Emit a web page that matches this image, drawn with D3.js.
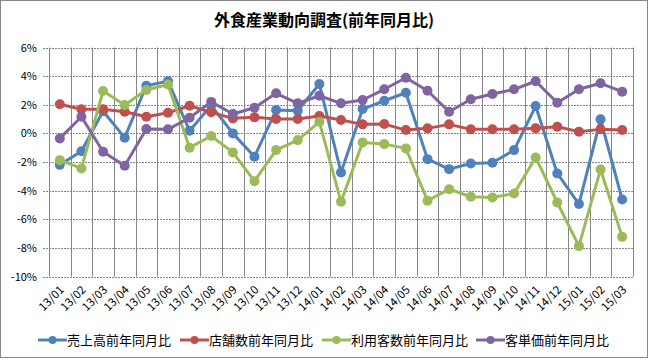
<!DOCTYPE html>
<html><head><meta charset="utf-8">
<script src="https://cdn.jsdelivr.net/npm/d3@7"></script>
<style>
html,body{margin:0;padding:0;background:#fff;}
svg{display:block;font-family:"Noto Sans CJK JP","Noto Sans",sans-serif;}
</style></head>
<body>
<script>
const categories = ["13/01","13/02","13/03","13/04","13/05","13/06","13/07","13/08","13/09","13/10","13/11","13/12","14/01","14/02","14/03","14/04","14/05","14/06","14/07","14/08","14/09","14/10","14/11","14/12","15/01","15/02","15/03"];
const sales    = [-2.2,-1.25,1.55,-0.3,3.33,3.65,0.18,1.95,0.0,-1.63,1.63,1.58,3.45,-2.73,1.7,2.28,2.84,-1.8,-2.5,-2.1,-2.05,-1.17,1.91,-2.8,-4.94,0.98,-4.62];
const stores   = [2.03,1.68,1.68,1.51,1.16,1.44,1.93,1.47,1.05,1.12,1.0,1.0,1.21,0.93,0.63,0.65,0.23,0.35,0.63,0.28,0.28,0.28,0.35,0.46,0.12,0.28,0.23];
const visitors = [-1.87,-2.45,2.96,1.98,3.03,3.42,-1.0,-0.18,-1.33,-3.34,-1.17,-0.47,0.81,-4.78,-0.63,-0.75,-1.05,-4.71,-3.9,-4.43,-4.48,-4.2,-1.68,-4.83,-7.88,-2.52,-7.23];
const unitPrice= [-0.35,1.16,-1.28,-2.26,0.3,0.28,1.09,2.2,1.35,1.79,2.8,2.1,2.63,2.1,2.33,3.08,3.89,2.98,1.51,2.38,2.75,3.08,3.64,2.14,3.08,3.5,2.91];
const seriesNames = ["売上高前年同月比","店舗数前年同月比","利用客数前年同月比","客単価前年同月比"];
const seriesColors = ["#4F81BD","#C0504D","#9BBB59","#8064A2"];
const yTicks = [6,4,2,0,-2,-4,-6,-8,-10];
const title = "外食産業動向調査(前年同月比)";

(function(){
const W = 649, H = 361;
const svg = d3.select("body").append("svg").attr("width", W).attr("height", H);

svg.append("rect").attr("x",0.5).attr("y",0.5).attr("width",W-2).attr("height",H-4)
  .attr("fill","#fff").attr("stroke","#868686").attr("stroke-width",1);

svg.append("text").attr("x",324).attr("y",26).attr("text-anchor","middle")
  .attr("font-size",16).attr("font-weight","bold").attr("fill","#000").text(title);

const pLeft = 49, pRight = 633, pTop = 47.5, pBottom = 276.5;
const x = d3.scaleBand().domain(categories).range([pLeft, pRight]);
const y = d3.scaleLinear().domain([-10, 6]).range([pBottom, pTop]);

svg.append("g").selectAll("line").data(yTicks).join("line")
  .attr("x1", pLeft - 6).attr("x2", pRight)
  .attr("y1", d => Math.round(y(d)) + 0.5).attr("y2", d => Math.round(y(d)) + 0.5)
  .attr("stroke", "#868686").attr("stroke-dasharray", "2,1");

const bounds = categories.map(c => x(c)).concat([pRight]);
svg.append("g").selectAll("line").data(bounds).join("line")
  .attr("x1", d => Math.round(d) + 0.5).attr("x2", d => Math.round(d) + 0.5)
  .attr("y1", pTop).attr("y2", pBottom)
  .attr("stroke", "#868686");

svg.append("g").selectAll("text").data(yTicks).join("text")
  .attr("x", 37).attr("y", d => y(d) + 4)
  .attr("text-anchor", "end").attr("font-size", 11).attr("fill", "#000")
  .text(d => d + "%");

svg.append("g").selectAll("text").data(categories).join("text")
  .attr("transform", d => `translate(${x(d) + x.bandwidth()/2 + 5},${pBottom + 14}) rotate(-45)`)
  .attr("text-anchor", "end").attr("font-size", 11.5).attr("fill", "#000")
  .text(d => d);

const allSeries = [sales, stores, visitors, unitPrice];
const line = d3.line().x((d,i) => x(categories[i]) + x.bandwidth()/2).y(d => y(d));
allSeries.forEach((vals, si) => {
  const g = svg.append("g");
  g.append("path").datum(vals).attr("d", line).attr("fill","none")
    .attr("stroke", seriesColors[si]).attr("stroke-width", 3).attr("stroke-linejoin","round");
  g.selectAll("circle").data(vals).join("circle")
    .attr("cx", (d,i) => x(categories[i]) + x.bandwidth()/2).attr("cy", d => y(d))
    .attr("r", 5).attr("fill", seriesColors[si]);
});

const legendX = [38, 180, 322, 476];
const lg = svg.append("g");
seriesNames.forEach((n, i) => {
  const lx = legendX[i], ly = 340;
  lg.append("line").attr("x1", lx).attr("x2", lx + 29).attr("y1", ly).attr("y2", ly)
    .attr("stroke", seriesColors[i]).attr("stroke-width", 3);
  lg.append("circle").attr("cx", lx + 14.5).attr("cy", ly).attr("r", 4).attr("fill", seriesColors[i]);
  lg.append("text").attr("x", lx + 29).attr("y", ly + 5).attr("font-size", 13).attr("fill","#000").text(n);
});
})();
</script>
</body></html>
